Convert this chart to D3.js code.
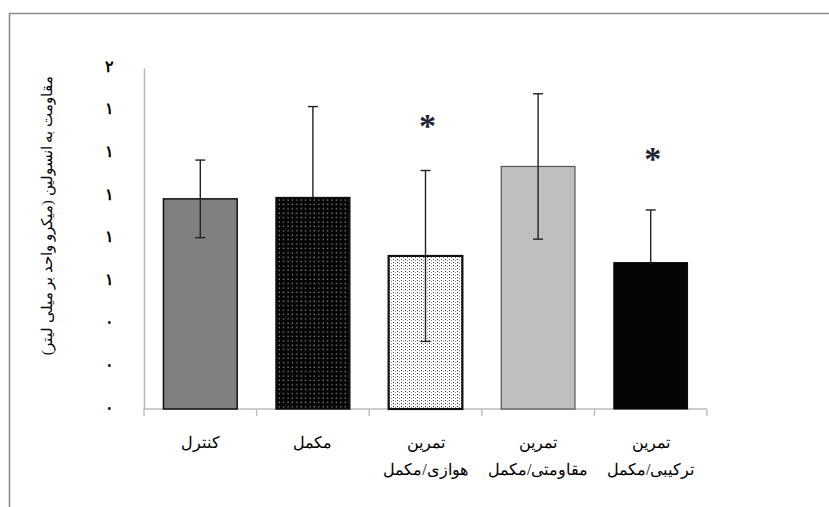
<!DOCTYPE html>
<html>
<head>
<meta charset="utf-8">
<script src="https://cdn.jsdelivr.net/npm/d3@7"></script>
<style>
  body { margin: 0; background: #fff; }
  svg text { font-family: "Times New Roman", "Liberation Serif", "DejaVu Serif", serif; }
</style>
</head>
<body>
<div class="chart"></div>
<script>
// Insulin resistance by group - bar chart with SD error bars

// Chart Data
var groups = ["کنترل", "مکمل", "تمرین هوازی/مکمل", "تمرین مقاومتی/مکمل", "تمرین ترکیبی/مکمل"];
var labelLine1 = ["کنترل", "مکمل", "تمرین", "تمرین", "تمرین"];
var labelLine2 = ["", "", "هوازی/مکمل", "مقاومتی/مکمل", "ترکیبی/مکمل"];
var means = [0.986, 0.992, 0.718, 1.138, 0.687];
var sds = [0.182, 0.427, 0.401, 0.341, 0.247];
var showLower = [true, false, true, true, false];
var starValues = [null, null, 1.357, null, 1.203];
var yTicks = [0, 0.2, 0.4, 0.6, 0.8, 1.0, 1.2, 1.4, 1.6];
var yTitle = "مقاومت به انسولین (میکرو واحد بر میلی لیتر)";

// Setup Chart Parameters/Dimensions
var svgWidth = 829;
var svgHeight = 507;

var plot = { left: 144, right: 707, top: 68, bottom: 409 };

var svg = d3.select(".chart")
  .append("svg")
  .attr("width", svgWidth)
  .attr("height", svgHeight);

// Patterns for dotted bars
var defs = svg.append("defs");

var patBlack = defs.append("pattern")
  .attr("id", "dotsWhite")
  .attr("patternUnits", "userSpaceOnUse")
  .attr("width", 4.4)
  .attr("height", 4.4);
patBlack.append("rect").attr("width", 4.4).attr("height", 4.4).attr("fill", "#050505");
patBlack.append("rect").attr("x", 1.5).attr("y", 1.5).attr("width", 1).attr("height", 1).attr("fill", "#e0e0e0");

var patWhite = defs.append("pattern")
  .attr("id", "dotsBlack")
  .attr("patternUnits", "userSpaceOnUse")
  .attr("width", 4)
  .attr("height", 3);
patWhite.append("rect").attr("width", 4).attr("height", 3).attr("fill", "#fff");
patWhite.append("rect").attr("x", 1).attr("y", 1).attr("width", 1).attr("height", 1).attr("fill", "#333");
patWhite.append("rect").attr("x", 3).attr("y", 2).attr("width", 1).attr("height", 1).attr("fill", "#888");

var barFills = ["#808080", "url(#dotsWhite)", "url(#dotsBlack)", "#bfbfbf", "#050505"];
var barStrokes = ["#111", "#111", "#111", "#555", "#050505"];
var barStrokeWidths = [1.5, 1.5, 2.2, 1.2, 1];

// Outer frame (chart area border)
svg.append("path")
  .attr("d", "M9.5,507 L9.5,13.5 L829,13.5")
  .attr("fill", "none")
  .attr("stroke", "#8a8a8a")
  .attr("stroke-width", 1.6);

// Scales
var xScale = d3.scaleBand()
  .domain(groups)
  .range([plot.left, plot.right])
  .paddingInner(0)
  .paddingOuter(0);

var yScale = d3.scaleLinear()
  .domain([0, 1.6])
  .range([plot.bottom, plot.top]);

var barWidth = xScale.bandwidth() * 0.655;

// Y axis (line + Persian digit labels rounded to integers)
var faDigits = "۰۱۲۳۴۵۶۷۸۹";
function toFa(v) {
  return String(Math.round(v)).replace(/\d/g, function(c) { return faDigits[+c]; });
}

var leftAxis = d3.axisLeft(yScale)
  .tickValues(yTicks)
  .tickSize(0)
  .tickPadding(30)
  .tickFormat(toFa);

var yAxis = svg.append("g")
  .attr("transform", `translate(${plot.left}, 0)`)
  .call(leftAxis);
yAxis.select(".domain").attr("stroke", "#bcbcbc").attr("stroke-width", 1.6);
yAxis.selectAll("text")
  .attr("font-size", 16)
  .attr("font-weight", "bold")
  .attr("fill", "#000")
  .attr("dy", "0.2em");

// X axis with ticks at category boundaries
var boundaries = groups.map(g => xScale(g)).concat([plot.right]);
var xAxisG = svg.append("g");
xAxisG.append("line")
  .attr("x1", plot.left).attr("x2", plot.right)
  .attr("y1", plot.bottom).attr("y2", plot.bottom)
  .attr("stroke", "#bcbcbc").attr("stroke-width", 1.6);
xAxisG.selectAll(".xtick")
  .data(boundaries)
  .enter()
  .append("line")
  .attr("class", "xtick")
  .attr("x1", d => d).attr("x2", d => d)
  .attr("y1", plot.bottom).attr("y2", plot.bottom + 7)
  .attr("stroke", "#bcbcbc").attr("stroke-width", 1.4);

// Bars
svg.selectAll(".bar")
  .data(means)
  .enter()
  .append("rect")
  .attr("class", "bar")
  .attr("x", (d, i) => xScale(groups[i]) + (xScale.bandwidth() - barWidth) / 2)
  .attr("y", d => yScale(d))
  .attr("width", barWidth)
  .attr("height", d => yScale(0) - yScale(d))
  .attr("fill", (d, i) => barFills[i])
  .attr("stroke", (d, i) => barStrokes[i])
  .attr("stroke-width", (d, i) => barStrokeWidths[i]);

// Error bars (lower whisker hidden where the bar is dark)
var errG = svg.selectAll(".err")
  .data(means)
  .enter()
  .append("g")
  .attr("class", "err")
  .attr("transform", (d, i) => `translate(${xScale(groups[i]) + xScale.bandwidth() / 2}, 0)`)
  .attr("stroke", "#222")
  .attr("stroke-width", 1.4);

errG.append("line")
  .attr("y1", (d, i) => yScale(d + sds[i]))
  .attr("y2", (d, i) => showLower[i] ? yScale(d - sds[i]) : yScale(d));
errG.append("line")
  .attr("x1", -5).attr("x2", 5)
  .attr("y1", (d, i) => yScale(d + sds[i]))
  .attr("y2", (d, i) => yScale(d + sds[i]));
errG.filter((d, i) => showLower[i])
  .append("line")
  .attr("x1", -5).attr("x2", 5)
  .attr("y1", function(d) { var i = means.indexOf(d); return yScale(d - sds[i]); })
  .attr("y2", function(d) { var i = means.indexOf(d); return yScale(d - sds[i]); });

// Significance stars
svg.selectAll(".star")
  .data(starValues.map((v, i) => ({ v: v, g: groups[i] })).filter(d => d.v !== null))
  .enter()
  .append("text")
  .attr("class", "star")
  .attr("x", d => xScale(d.g) + xScale.bandwidth() / 2 + 2)
  .attr("y", d => yScale(d.v) + 17)
  .attr("text-anchor", "middle")
  .attr("font-size", 34)
  .attr("font-weight", "bold")
  .attr("fill", "#1c2436")
  .text("*");

// Category labels (two lines)
var catG = svg.selectAll(".cat")
  .data(groups)
  .enter()
  .append("g")
  .attr("class", "cat")
  .attr("transform", d => `translate(${xScale(d) + xScale.bandwidth() / 2}, 0)`);
catG.append("text")
  .attr("y", 448)
  .attr("text-anchor", "middle")
  .attr("direction", "rtl")
  .attr("font-size", 16)
  .text((d, i) => labelLine1[i]);
catG.append("text")
  .attr("y", 475)
  .attr("text-anchor", "middle")
  .attr("direction", "rtl")
  .attr("font-size", 16)
  .text((d, i) => labelLine2[i]);

// Y axis title
svg.append("text")
  .attr("transform", `translate(52, ${(plot.top + 363) / 2}) rotate(-90)`)
  .attr("text-anchor", "middle")
  .attr("direction", "rtl")
  .attr("font-size", 15)
  .text(yTitle);
</script>
</body>
</html>
